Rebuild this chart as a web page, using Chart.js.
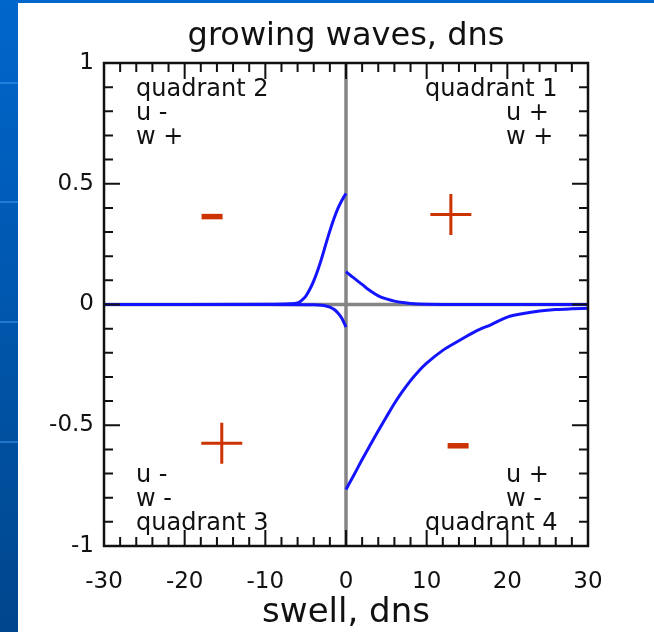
<!DOCTYPE html>
<html>
<head>
<meta charset="utf-8">
<script src="https://cdn.jsdelivr.net/npm/chart.js@4/dist/chart.umd.min.js"></script>
<style>
  html, body { margin: 0; padding: 0; }
  body { width: 654px; height: 632px; position: relative; overflow: hidden;
         background: linear-gradient(#0066cc, #00468c); }
  .stripe { position: absolute; left: 0; width: 18px; height: 2px; background: rgba(60,150,235,0.55); }
  #panel { position: absolute; left: 18px; top: 3px; right: 0; bottom: 0; background: #fff; }
  #wrap { position: absolute; left: 0; top: 0; width: 654px; height: 632px; }
</style>
</head>
<body>
<div class="stripe" style="top:82px"></div>
<div class="stripe" style="top:201px"></div>
<div class="stripe" style="top:321px"></div>
<div class="stripe" style="top:441px"></div>
<div id="panel"></div>
<div id="wrap"><canvas id="chart" width="654" height="632"></canvas></div>
<script>
// curves (swell, dns)
const xUpperLeft = [-30, -20, -10, -7, -6, -5.5, -5, -4.5, -4, -3.5, -3, -2.5, -2, -1.5, -1, -0.5, 0];
const yUpperLeft = [0, 0, 0.001, 0.003, 0.006, 0.017, 0.034, 0.062, 0.098, 0.142, 0.193, 0.25, 0.305, 0.355, 0.398, 0.432, 0.46];

const xLowerLeft = [-30, -10, -4, -3, -2.5, -2, -1.5, -1, -0.5, 0];
const yLowerLeft = [0, 0, -0.001, -0.003, -0.006, -0.011, -0.02, -0.035, -0.058, -0.094];

const xUpperRight = [0, 0.5, 1, 1.5, 2, 2.5, 3, 4, 5, 6, 7, 8, 10, 15, 20, 30];
const yUpperRight = [0.136, 0.122, 0.109, 0.096, 0.083, 0.069, 0.057, 0.036, 0.023, 0.014, 0.008, 0.004, 0.001, 0, 0, 0];

const xLowerRight = [0, 1, 2, 3, 4, 5, 6, 7, 8, 9, 10, 12, 14, 16, 18, 20, 22, 24, 26, 28, 30];
const yLowerRight = [-0.766, -0.705, -0.642, -0.582, -0.523, -0.466, -0.41, -0.36, -0.315, -0.276, -0.243, -0.19, -0.15, -0.112, -0.083, -0.052, -0.037, -0.027, -0.021, -0.018, -0.016];

// sign markers
const plusX = [13, -15.4];
const plusY = [0.373, -0.575];
const minusX = [-16.6, 13.9];
const minusY = [0.364, -0.585];

const xTicks = [-30, -20, -10, 0, 10, 20, 30];
const yTicks = [-1, -0.5, 0, 0.5, 1];

const quadTop = [['quadrant 2', 'u -', 'w +'], ['quadrant 1', 'u +', 'w +']];
const quadBottom = [['u -', 'w -', 'quadrant 3'], ['u +', 'w -', 'quadrant 4']];

function points(xs, ys) {
    return xs.map((x, i) => ({ x: x, y: ys[i] }));
}

function curve(xs, ys) {
    return {
        data: points(xs, ys),
        showLine: true,
        borderColor: '#1414ff',
        borderWidth: 3,
        pointRadius: 0,
        cubicInterpolationMode: 'monotone'
    };
}

const frame = {
    id: 'frame',
    beforeDatasetsDraw(chart) {
        const { ctx, chartArea: a, scales: { x, y } } = chart;
        ctx.save();
        ctx.strokeStyle = '#858585';
        ctx.lineWidth = 3.5;
        ctx.beginPath();
        ctx.moveTo(x.getPixelForValue(0), a.top);
        ctx.lineTo(x.getPixelForValue(0), a.bottom);
        ctx.moveTo(a.left, y.getPixelForValue(0));
        ctx.lineTo(a.right, y.getPixelForValue(0));
        ctx.stroke();
        ctx.restore();
    },
    afterDatasetsDraw(chart) {
        const { ctx, chartArea: a, scales: { x, y } } = chart;
        ctx.save();
        ctx.strokeStyle = '#111';
        ctx.lineWidth = 2;
        ctx.beginPath();
        for (let i = 0; i <= 30; i++) {
            const px = x.getPixelForValue(-30 + 2 * i);
            const len = i % 5 === 0 ? 16 : 9;
            ctx.moveTo(px, a.bottom); ctx.lineTo(px, a.bottom - len);
            ctx.moveTo(px, a.top); ctx.lineTo(px, a.top + len);
        }
        for (let j = 0; j <= 20; j++) {
            const py = y.getPixelForValue(-1 + 0.1 * j);
            const len = j % 5 === 0 ? 16 : 9;
            ctx.moveTo(a.left, py); ctx.lineTo(a.left + len, py);
            ctx.moveTo(a.right, py); ctx.lineTo(a.right - len, py);
        }
        ctx.stroke();
        ctx.lineWidth = 2.5;
        ctx.strokeRect(a.left, a.top, a.right - a.left, a.bottom - a.top);

        ctx.fillStyle = '#111';
        ctx.font = '24px "DejaVu Sans"';
        ctx.textBaseline = 'alphabetic';
        ctx.textAlign = 'left';
        const lh = 24;
        // upper quadrants
        quadTop[0].forEach((t, k) => ctx.fillText(t, a.left + 32, a.top + 33 + k * lh));
        ctx.fillText(quadTop[1][0], a.left + 321, a.top + 33);
        ctx.fillText(quadTop[1][1], a.left + 402, a.top + 33 + lh);
        ctx.fillText(quadTop[1][2], a.left + 402, a.top + 33 + 2 * lh);
        // lower quadrants
        quadBottom[0].forEach((t, k) => ctx.fillText(t, a.left + 32, a.bottom - 64 + k * lh));
        ctx.fillText(quadBottom[1][0], a.left + 402, a.bottom - 64);
        ctx.fillText(quadBottom[1][1], a.left + 402, a.bottom - 64 + lh);
        ctx.fillText(quadBottom[1][2], a.left + 321, a.bottom - 64 + 2 * lh);
        ctx.restore();
    }
};

Chart.defaults.font.family = '"DejaVu Sans"';
Chart.defaults.color = '#111';

new Chart(document.getElementById('chart'), {
    type: 'scatter',
    data: {
        datasets: [
            curve(xUpperLeft, yUpperLeft),
            curve(xLowerLeft, yLowerLeft),
            curve(xUpperRight, yUpperRight),
            curve(xLowerRight, yLowerRight),
            {
                data: points(plusX, plusY),
                pointStyle: 'cross',
                pointRadius: 20.5,
                borderColor: '#cc3300',
                borderWidth: 3
            },
            {
                data: points(minusX, minusY),
                pointStyle: 'line',
                pointRadius: 10.5,
                borderColor: '#cc3300',
                borderWidth: 5.5
            }
        ]
    },
    options: {
        responsive: false,
        animation: false,
        devicePixelRatio: 1,
        layout: { padding: { left: 0, right: 66, top: 0, bottom: 0 } },
        plugins: {
            legend: { display: false },
            tooltip: { enabled: false },
            title: {
                display: true,
                fullSize: false,
                text: 'growing waves, dns',
                font: { size: 32, weight: 'normal' },
                padding: { top: 17, bottom: 7.6 }
            }
        },
        scales: {
            x: {
                type: 'linear',
                min: -30, max: 30,
                afterFit(s) { s.height = 86; },
                afterBuildTicks(s) { s.ticks = xTicks.map(v => ({ value: v })); },
                grid: { display: false, drawTicks: false },
                border: { display: false },
                ticks: { font: { size: 23 }, padding: 22, callback: v => String(v) },
                title: { display: true, text: 'swell, dns', font: { size: 34 }, padding: { top: 0, bottom: -2 } }
            },
            y: {
                type: 'linear',
                min: -1, max: 1,
                afterFit(s) { s.width = 104; },
                afterBuildTicks(s) { s.ticks = yTicks.map(v => ({ value: v })); },
                grid: { display: false, drawTicks: false },
                border: { display: false },
                ticks: { font: { size: 23 }, padding: 10, callback: v => String(v) }
            }
        }
    },
    plugins: [frame]
});
</script>
</body>
</html>
